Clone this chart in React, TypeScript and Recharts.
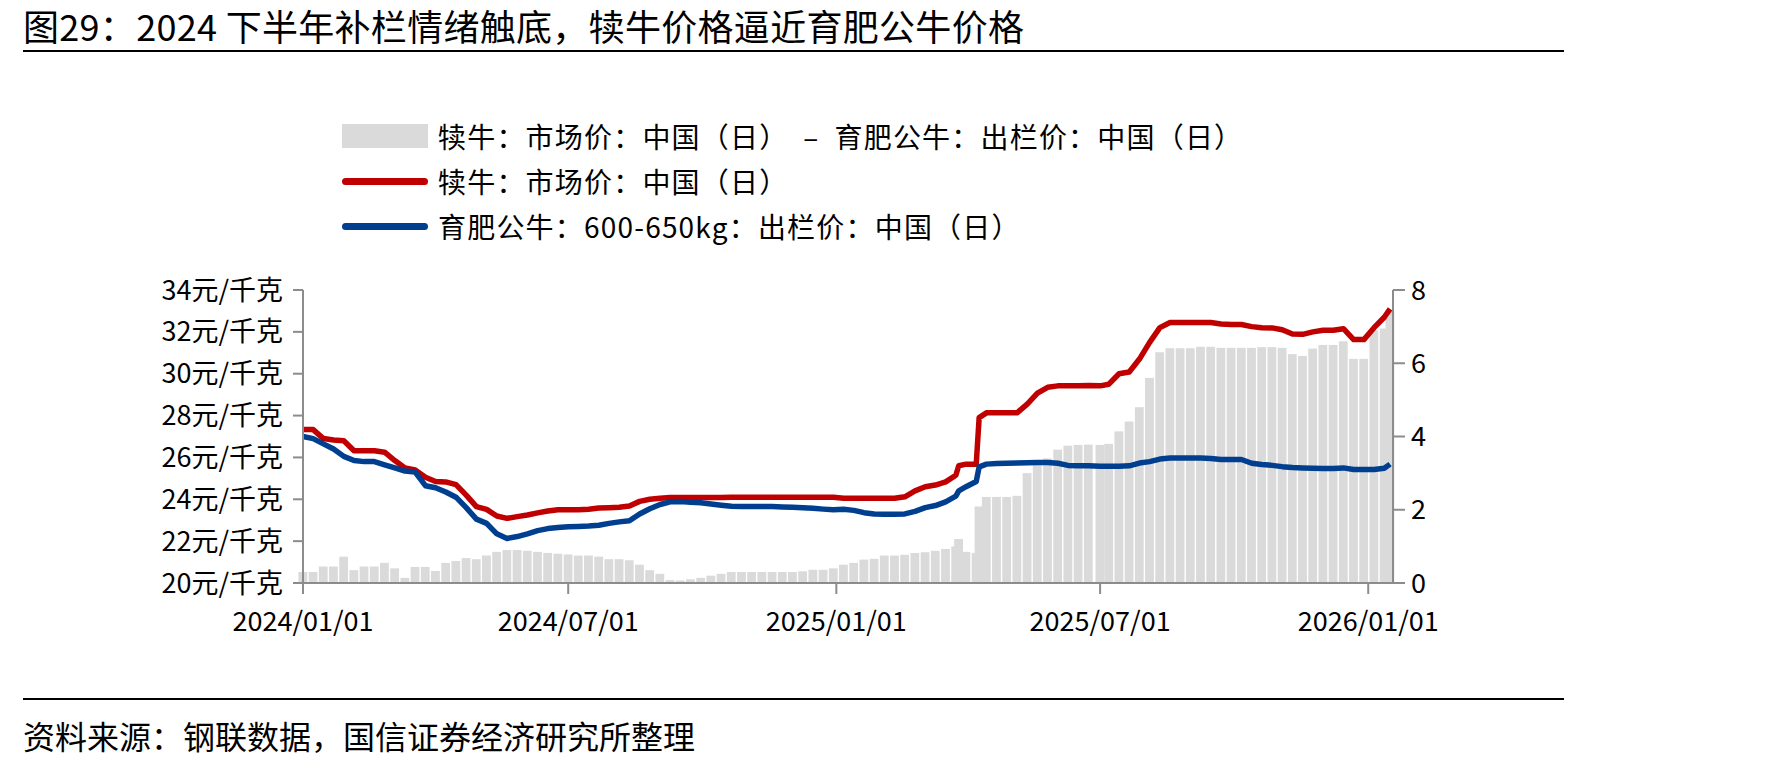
import { Bar, ComposedChart, Line, XAxis, YAxis } from 'recharts'

// day offset from 2024/01/01
const days = [
  0, 7, 14, 21, 28, 35, 42, 49, 56, 63, 70, 77, 84, 91, 98, 105, 112, 119, 126, 133, 140, 147, 154, 161, 168, 175,
  182, 189, 196, 203, 210, 217, 224, 231, 238, 245, 252, 259, 266, 273, 280, 287, 294, 301, 308, 315, 322, 329, 336, 343, 350, 357, 364,
  371, 378, 385, 392, 399, 406, 413, 420, 427, 434, 441, 448, 450, 455, 462, 464, 469, 476, 483, 490, 497, 504, 511, 518, 525, 532, 539,
  547, 553, 560, 567, 574, 581, 588, 595, 602, 609, 616, 623, 630, 637, 644, 651, 658, 665, 672, 679, 686, 693, 700, 707, 714, 721, 728, 735, 742, 746,
]

// 犊牛：市场价
const calfPrice = [
  27.33, 27.33, 26.9, 26.83, 26.8, 26.32, 26.32, 26.32, 26.25, 25.85, 25.5, 25.4, 25.05, 24.85, 24.83, 24.7, 24.2, 23.65, 23.52, 23.2, 23.09, 23.17, 23.25, 23.35, 23.44, 23.5,
  23.5, 23.5, 23.52, 23.58, 23.6, 23.62, 23.68, 23.9, 24.0, 24.05, 24.08, 24.08, 24.08, 24.08, 24.08, 24.08, 24.1, 24.1, 24.1, 24.1, 24.1, 24.1, 24.1, 24.1, 24.1, 24.1, 24.1,
  24.05, 24.05, 24.05, 24.05, 24.05, 24.05, 24.12, 24.4, 24.6, 24.68, 24.83, 25.15, 25.6, 25.68, 25.68, 27.9, 28.13, 28.13, 28.13, 28.13, 28.55, 29.07, 29.35, 29.42, 29.42, 29.42, 29.44,
  29.42, 29.5, 30.0, 30.08, 30.7, 31.5, 32.2, 32.45, 32.45, 32.45, 32.45, 32.45, 32.38, 32.35, 32.35, 32.25, 32.2, 32.19, 32.1, 31.9, 31.88, 32.0, 32.08, 32.08, 32.15, 31.63, 31.63, 32.2, 32.7, 33.1,
]

// 育肥公牛：600-650kg：出栏价
const bullPrice = [
  27.0, 26.9, 26.65, 26.4, 26.05, 25.85, 25.8, 25.8, 25.65, 25.5, 25.35, 25.3, 24.65, 24.55, 24.35, 24.1, 23.6, 23.05, 22.85, 22.35, 22.13, 22.22, 22.35, 22.5, 22.6, 22.65,
  22.69, 22.7, 22.72, 22.76, 22.85, 22.92, 22.97, 23.3, 23.55, 23.75, 23.88, 23.89, 23.86, 23.83, 23.77, 23.72, 23.67, 23.66, 23.66, 23.66, 23.65, 23.63, 23.62, 23.6, 23.57, 23.53, 23.5,
  23.52, 23.47, 23.36, 23.3, 23.28, 23.28, 23.3, 23.42, 23.6, 23.7, 23.88, 24.15, 24.4, 24.6, 24.85, 25.55, 25.68, 25.71, 25.72, 25.73, 25.75, 25.76, 25.76, 25.72, 25.62, 25.6, 25.6,
  25.58, 25.58, 25.58, 25.6, 25.73, 25.8, 25.92, 25.97, 25.97, 25.97, 25.97, 25.95, 25.9, 25.9, 25.9, 25.72, 25.66, 25.62, 25.56, 25.52, 25.5, 25.48, 25.47, 25.47, 25.5, 25.42, 25.42, 25.42, 25.48, 25.68,
]

// 犊牛 - 育肥公牛 价差（右轴）
const spread = [
  0.3, 0.3, 0.45, 0.45, 0.72, 0.35, 0.45, 0.45, 0.55, 0.4, 0.14, 0.44, 0.44, 0.33, 0.55, 0.6, 0.68, 0.65, 0.75, 0.85, 0.9, 0.9, 0.88, 0.85, 0.82, 0.8,
  0.78, 0.75, 0.75, 0.72, 0.65, 0.65, 0.62, 0.5, 0.35, 0.25, 0.08, 0.07, 0.1, 0.14, 0.2, 0.25, 0.3, 0.3, 0.3, 0.3, 0.3, 0.3, 0.3, 0.32, 0.36, 0.36, 0.4,
  0.5, 0.55, 0.64, 0.66, 0.75, 0.75, 0.77, 0.82, 0.84, 0.88, 0.93, 1.0, 1.2, 0.85, 0.82, 2.09, 2.35, 2.35, 2.35, 2.38, 3.0, 3.23, 3.4, 3.64, 3.75, 3.77, 3.78,
  3.77, 3.8, 4.14, 4.41, 4.8, 5.6, 6.3, 6.41, 6.41, 6.41, 6.45, 6.45, 6.42, 6.42, 6.42, 6.42, 6.44, 6.44, 6.42, 6.25, 6.2, 6.4, 6.5, 6.5, 6.6, 6.12, 6.12, 6.9, 6.95, 7.45,
]

const xTicks = [0, 182, 366, 547, 731]
const xTickLabels = ['2024/01/01', '2024/07/01', '2025/01/01', '2025/07/01', '2026/01/01']
const leftTicks = [20, 22, 24, 26, 28, 30, 32, 34]
const rightTicks = [0, 2, 4, 6, 8]

const FONT = '"Noto Sans CJK SC", "Noto Sans", sans-serif'
const AXIS = '#8c8c8c'
const RED = '#c00000'
const BLUE = '#003f8f'
const GREY = '#dadada'

const data = days.map((d, i) => ({ day: d, calf: calfPrice[i], bull: bullPrice[i], spread: spread[i] }))

// bars on a time axis get squeezed by the closest pair of points, so draw a fixed-width column at the bar's centre
function SpreadColumn(props: any) {
  const { x, y, width, height } = props
  if (!height || height <= 0) return null
  const cx = x + width / 2
  return <rect x={cx - 4.4} y={y} width={8.8} height={height} fill={GREY} />
}

function LegendRow({ top, swatch, label }: { top: number; swatch: 'bar' | 'red' | 'blue'; label: string }) {
  return (
    <div style={{ position: 'absolute', left: 342, top: top - 20, height: 40, display: 'flex', alignItems: 'center' }}>
      {swatch === 'bar' ? (
        <div style={{ width: 86, height: 24, background: GREY }} />
      ) : (
        <div style={{ width: 86, height: 7, borderRadius: 4, background: swatch === 'red' ? RED : BLUE }} />
      )}
      <span style={{ marginLeft: 10, fontSize: 28, letterSpacing: 1.2, whiteSpace: 'pre' }}>{label}</span>
    </div>
  )
}

export default function App() {
  return (
    <div style={{ position: 'absolute', left: 0, top: 0, width: 1771, height: 767, background: '#fff', fontFamily: FONT, color: '#000' }}>
      <div style={{ position: 'absolute', left: 23, top: 2, fontSize: 36, lineHeight: '46px', letterSpacing: 0.3, whiteSpace: 'pre' }}>
        图29：2024 下半年补栏情绪触底，犊牛价格逼近育肥公牛价格
      </div>
      <div style={{ position: 'absolute', left: 23, top: 50, width: 1541, height: 2, background: '#000' }} />

      <LegendRow top={136} swatch="bar" label="犊牛：市场价：中国（日）  –  育肥公牛：出栏价：中国（日）" />
      <LegendRow top={181} swatch="red" label="犊牛：市场价：中国（日）" />
      <LegendRow top={226} swatch="blue" label="育肥公牛：600-650kg：出栏价：中国（日）" />

      <div style={{ position: 'absolute', left: 0, top: 0 }}>
        <ComposedChart width={1771} height={680} data={data} margin={{ top: 290, right: 298, bottom: 37, left: 103 }}>
          <XAxis
            dataKey="day"
            type="number"
            domain={[0, 748]}
            ticks={xTicks}
            tickFormatter={(v) => xTickLabels[xTicks.indexOf(v)] ?? ''}
            height={60}
            tickSize={11}
            tickMargin={18}
            stroke={AXIS}
            strokeWidth={2}
            tick={{ fill: '#000', fontSize: 27, fontFamily: FONT }}
            interval={0}
          />
          <YAxis
            yAxisId="left"
            domain={[20, 34]}
            ticks={leftTicks}
            tickFormatter={(v) => `${v}元/千克`}
            width={200}
            tickSize={10}
            tickMargin={10}
            stroke={AXIS}
            strokeWidth={2}
            tick={{ fill: '#000', fontSize: 27, fontFamily: FONT }}
            interval={0}
          />
          <YAxis
            yAxisId="right"
            orientation="right"
            domain={[0, 8]}
            ticks={rightTicks}
            width={80}
            tickSize={12}
            tickMargin={6}
            stroke={AXIS}
            strokeWidth={2}
            tick={{ fill: '#000', fontSize: 27, fontFamily: FONT }}
            interval={0}
          />
          <Bar yAxisId="right" dataKey="spread" fill={GREY} shape={<SpreadColumn />} isAnimationActive={false} />
          <Line yAxisId="left" type="linear" dataKey="calf" stroke={RED} strokeWidth={5.5} dot={false} strokeLinejoin="round" isAnimationActive={false} />
          <Line yAxisId="left" type="linear" dataKey="bull" stroke={BLUE} strokeWidth={5.5} dot={false} strokeLinejoin="round" isAnimationActive={false} />
        </ComposedChart>
      </div>

      <div style={{ position: 'absolute', left: 23, top: 698, width: 1541, height: 2, background: '#000' }} />
      <div style={{ position: 'absolute', left: 23, top: 714, fontSize: 32, lineHeight: '42px', whiteSpace: 'pre' }}>
        资料来源：钢联数据，国信证券经济研究所整理
      </div>
    </div>
  )
}
